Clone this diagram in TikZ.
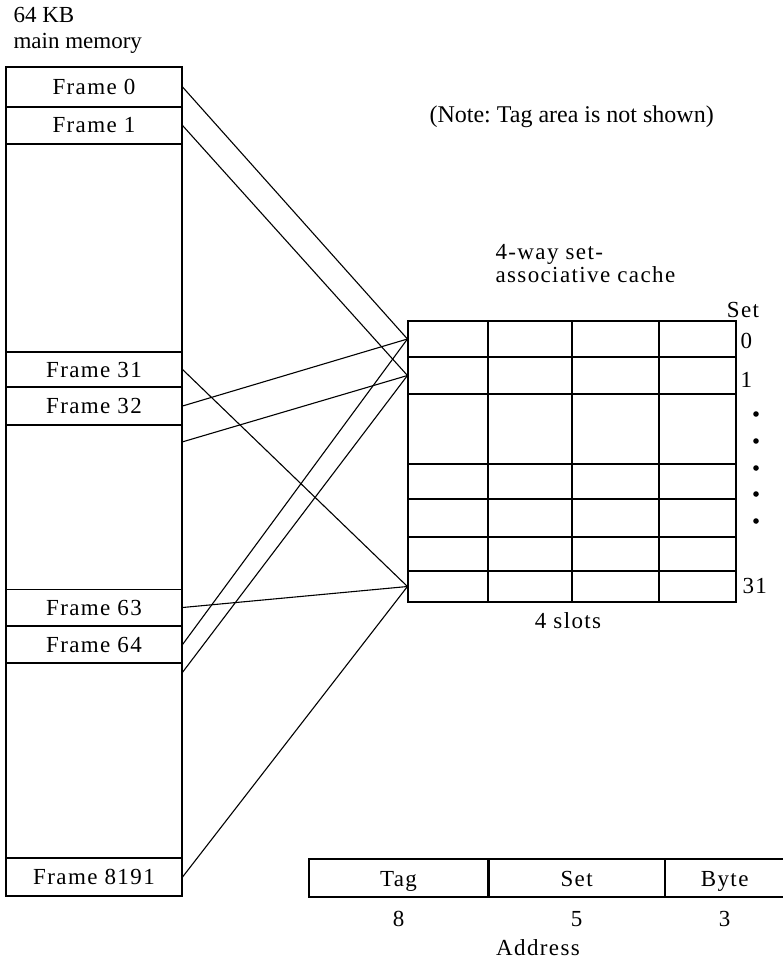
\documentclass[tikz,border=0pt]{standalone}
\usepackage{fontspec}
\setmainfont{Liberation Serif}
\newfontfamily\widefont[LetterSpace=6]{Liberation Serif}
\usetikzlibrary{positioning}
\frenchspacing

\begin{document}
\begin{tikzpicture}[x=1pt, y=-1pt, line width=1.1pt,
    txt/.style={inner sep=0pt, font=\fontsize{23}{27}\selectfont},
    wtxt/.style={inner sep=0pt, font=\fontsize{23}{27}\widefont},
    frame/.style={rectangle, draw, minimum width=176pt, inner sep=0pt, font=\fontsize{23}{27}\widefont},
    slot/.style={rectangle, draw, minimum width=328pt, inner sep=0pt},
    field/.style={rectangle, draw, minimum height=38pt, inner sep=0pt, text height=16pt, text depth=0pt, font=\fontsize{23}{27}\widefont}]
    \useasboundingbox (0,0) rectangle (783,959);

    % Main memory
    \node[txt, anchor=base west] (size) at (13,22) {64 KB};
    \node[txt, anchor=base west] (memlabel) at (13,48) {main memory};
    \node[rectangle, draw, minimum width=176pt, minimum height=829pt, inner sep=0pt] (mem) at (94,481.5) {};
    \node[frame, minimum height=40pt] (f0) at (94,87) {Frame 0};
    \node[frame, minimum height=37pt] (f1) at (94,125.5) {Frame 1};
    \node[frame, minimum height=35pt] (f31) at (94,369.5) {Frame 31};
    \node[frame, minimum height=38pt] (f32) at (94,406) {Frame 32};
    \node[frame, minimum height=36pt] (f63) at (94,607.5) {Frame 63};
    \node[frame, minimum height=37pt] (f64) at (94,644.5) {Frame 64};
    \node[frame, minimum height=38pt] (f8191) at (94,877) {Frame 8191};
    \coordinate (f33) at (182,442);
    \coordinate (f65) at (182,673);

    \node[txt, anchor=base west, font=\fontsize{24}{28}\selectfont] (note) at (429,122) {(Note: Tag area is not shown)};

    % Cache
    \node[wtxt, anchor=base west] (cacheA) at (495,259) {4-way set-};
    \node[wtxt, anchor=base west] (cacheB) at (495,282) {associative cache};
    \node[slot, minimum height=36pt] (s0) at (572,339) {};
    \node[slot, minimum height=37pt] (s1) at (572,375.5) {};
    \node[slot, minimum height=70pt] (s2) at (572,429) {};
    \node[slot, minimum height=35pt] (s3) at (572,481.5) {};
    \node[slot, minimum height=38pt] (s4) at (572,518) {};
    \node[slot, minimum height=34pt] (s5) at (572,554) {};
    \node[slot, minimum height=31pt] (s31) at (572,586.5) {};
    \foreach \x in {488,572,659}
        \draw (\x,321) -- (\x,602);
    \node[wtxt, anchor=base] (slots) at (568,628) {4 slots};

    % Set numbers
    \node[wtxt, anchor=base] (setlabel) at (743,317) {Set};
    \node[wtxt, anchor=base west] (n0) at (740,348) {0};
    \node[wtxt, anchor=base west] (n1) at (740,387) {1};
    \foreach \y in {414,441,468,494,521}
        \fill (756,\y) circle (2.8pt);
    \node[wtxt, anchor=base west] (n31) at (742,593) {31};

    % Mapping
    \draw (f0.east) -- (s0.west);
    \draw (f1.east) -- (s1.west);
    \draw (f31.east) -- (s31.west);
    \draw (f32.east) -- (s0.west);
    \draw (f33) -- (s1.west);
    \draw (f63.east) -- (s31.west);
    \draw (f64.east) -- (s0.west);
    \draw (f65) -- (s1.west);
    \draw (f8191.east) -- (s31.west);

    % Address format
    \node[field, minimum width=179pt] (tag) at (398.5,878) {Tag};
    \node[field, minimum width=175pt, right=0pt of tag] (setf) {Set};
    \node[field, minimum width=119pt, right=0pt of setf] (byte) {Byte};
    \node[wtxt, below=13pt of tag] (wtag) {8};
    \node[wtxt, below=13pt of setf] (wset) {5};
    \node[wtxt, below=13pt of byte] (wbyte) {3};
    \node[wtxt, anchor=base] (addr) at (538,955) {Address};
\end{tikzpicture}
\end{document}
